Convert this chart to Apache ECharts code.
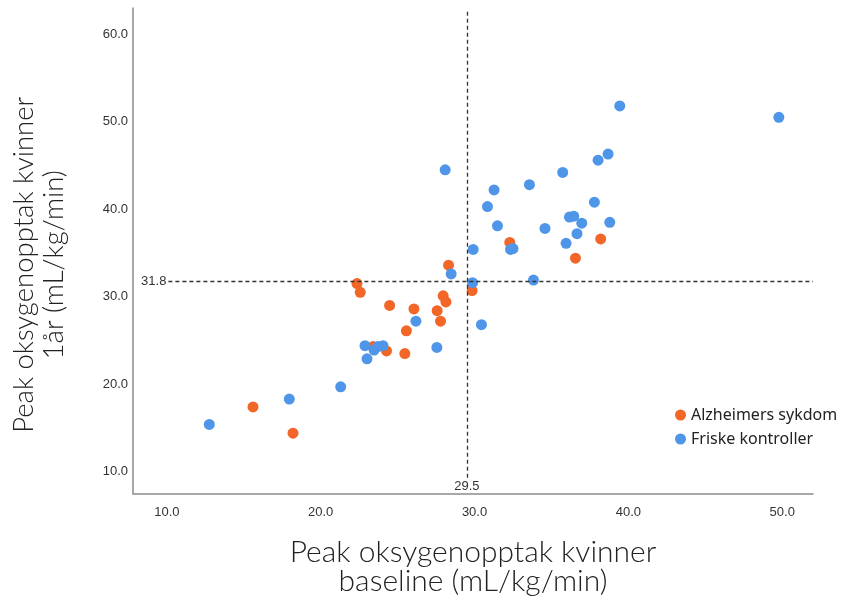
<!DOCTYPE html>
<html>
<head>
<meta charset="utf-8">
<script src="https://cdn.jsdelivr.net/npm/echarts@6/dist/echarts.min.js"></script>
<style>html,body{margin:0;padding:0;background:#fff}#c{width:846px;height:601px}</style>
</head>
<body>
<div id="c"></div>
<script>
// Data
const seriesNames = ['Alzheimers sykdom', 'Friske kontroller'];
const alzX = [15.6, 18.2, 22.36, 22.57, 24.48, 26.06, 25.57, 25.47, 24.28, 23.4, 27.57, 27.79, 27.96, 28.14, 28.31, 29.84, 32.29, 36.56, 38.2];
const alzY = [17.4, 14.4, 31.5, 30.5, 29.0, 28.6, 26.1, 23.5, 23.8, 24.3, 28.4, 27.2, 30.1, 29.4, 33.6, 30.7, 36.2, 34.4, 36.6];
const ctrlX = [12.76, 17.96, 21.3, 22.88, 23.01, 23.47, 23.72, 24.05, 26.19, 27.55, 28.48, 29.87, 30.45, 28.09, 29.91, 30.84, 31.27, 31.49, 32.34, 32.5, 33.57, 33.83, 34.58, 35.73, 35.95, 36.17, 36.45, 36.66, 36.97, 37.79, 38.03, 38.68, 38.79, 39.44, 49.78];
const ctrlY = [15.4, 18.3, 19.7, 24.4, 22.9, 23.9, 24.3, 24.4, 27.2, 24.2, 32.6, 31.6, 26.8, 44.5, 35.4, 40.3, 42.2, 38.1, 35.4, 35.5, 42.8, 31.9, 37.8, 44.2, 36.1, 39.1, 39.2, 37.2, 38.4, 40.8, 45.6, 46.3, 38.5, 51.8, 50.5];
const xTicks = [10, 20, 30, 40, 50];
const yTicks = [10, 20, 30, 40, 50, 60];
const refX = 29.5;   // mean baseline
const refY = 31.8;   // mean 1 year
const xRange = [7.8, 52];
const yRange = [7.5, 63];

const zip = (a, b) => a.map((v, i) => [v, b[i]]);
const chart = echarts.init(document.getElementById('c'), null, {renderer: 'canvas'});
const tickFont = {fontFamily: 'Liberation Sans, Arial, sans-serif', fontSize: 13, color: '#333'};
const titleBase = {fontFamily: 'Lato, Open Sans, sans-serif', fontWeight: 300, color: '#222'};

chart.setOption({
  animation: false,
  grid: {left: 133, right: 33, top: 8, bottom: 107},
  legend: {
    data: seriesNames,
    orient: 'vertical', left: 670, top: 402,
    icon: 'circle', itemWidth: 11, itemHeight: 11, itemGap: 8,
    textStyle: {fontFamily: 'Noto Sans, sans-serif', fontSize: 16, color: '#222'}
  },
  xAxis: {
    type: 'value', min: xRange[0], max: xRange[1],
    name: 'Peak oksygenopptak kvinner\nbaseline (mL/kg/min)',
    nameLocation: 'middle', nameGap: 44,
    nameTextStyle: Object.assign({fontSize: 30, lineHeight: 29}, titleBase),
    axisLine: {show: true, lineStyle: {color: '#8c8c8c', width: 1.5}},
    axisTick: {show: false}, splitLine: {show: false},
    axisLabel: Object.assign({customValues: xTicks, margin: 12, formatter: v => v.toFixed(1)}, tickFont)
  },
  yAxis: {
    type: 'value', min: yRange[0], max: yRange[1],
    name: 'Peak oksygenopptak kvinner\n1år (mL/kg/min)',
    nameLocation: 'middle', nameGap: 64,
    nameTextStyle: Object.assign({fontSize: 27.5, lineHeight: 30, padding: [0, 28, 0, 0]}, titleBase),
    axisLine: {show: true, lineStyle: {color: '#8c8c8c', width: 1.5}},
    axisTick: {show: false}, splitLine: {show: false},
    axisLabel: Object.assign({customValues: yTicks, margin: 5, formatter: v => v.toFixed(1)}, tickFont)
  },
  series: [
    {name: seriesNames[0], type: 'scatter', symbolSize: 11, itemStyle: {color: '#f26628', opacity: 1}, data: zip(alzX, alzY), z: 2},
    {name: seriesNames[1], type: 'scatter', symbolSize: 11, itemStyle: {color: '#5096e8', opacity: 1}, data: zip(ctrlX, ctrlY), z: 3},
    {
      name: 'ref', type: 'scatter', data: [], z: 5,
      markLine: {
        silent: true, symbol: ['none', 'none'],
        lineStyle: {color: '#333', type: [4, 3], width: 1.3},
        label: Object.assign({position: 'start', distance: 2, formatter: p => p.value.toFixed ? p.value.toFixed(1) : p.value}, tickFont),
        data: [
          [{coord: [10.1, refY], value: refY}, {coord: [xRange[1], refY]}],
          [{coord: [refX, 9.3], value: refX}, {coord: [refX, 62.8]}]
        ]
      }
    }
  ]
});
</script>
</body>
</html>
